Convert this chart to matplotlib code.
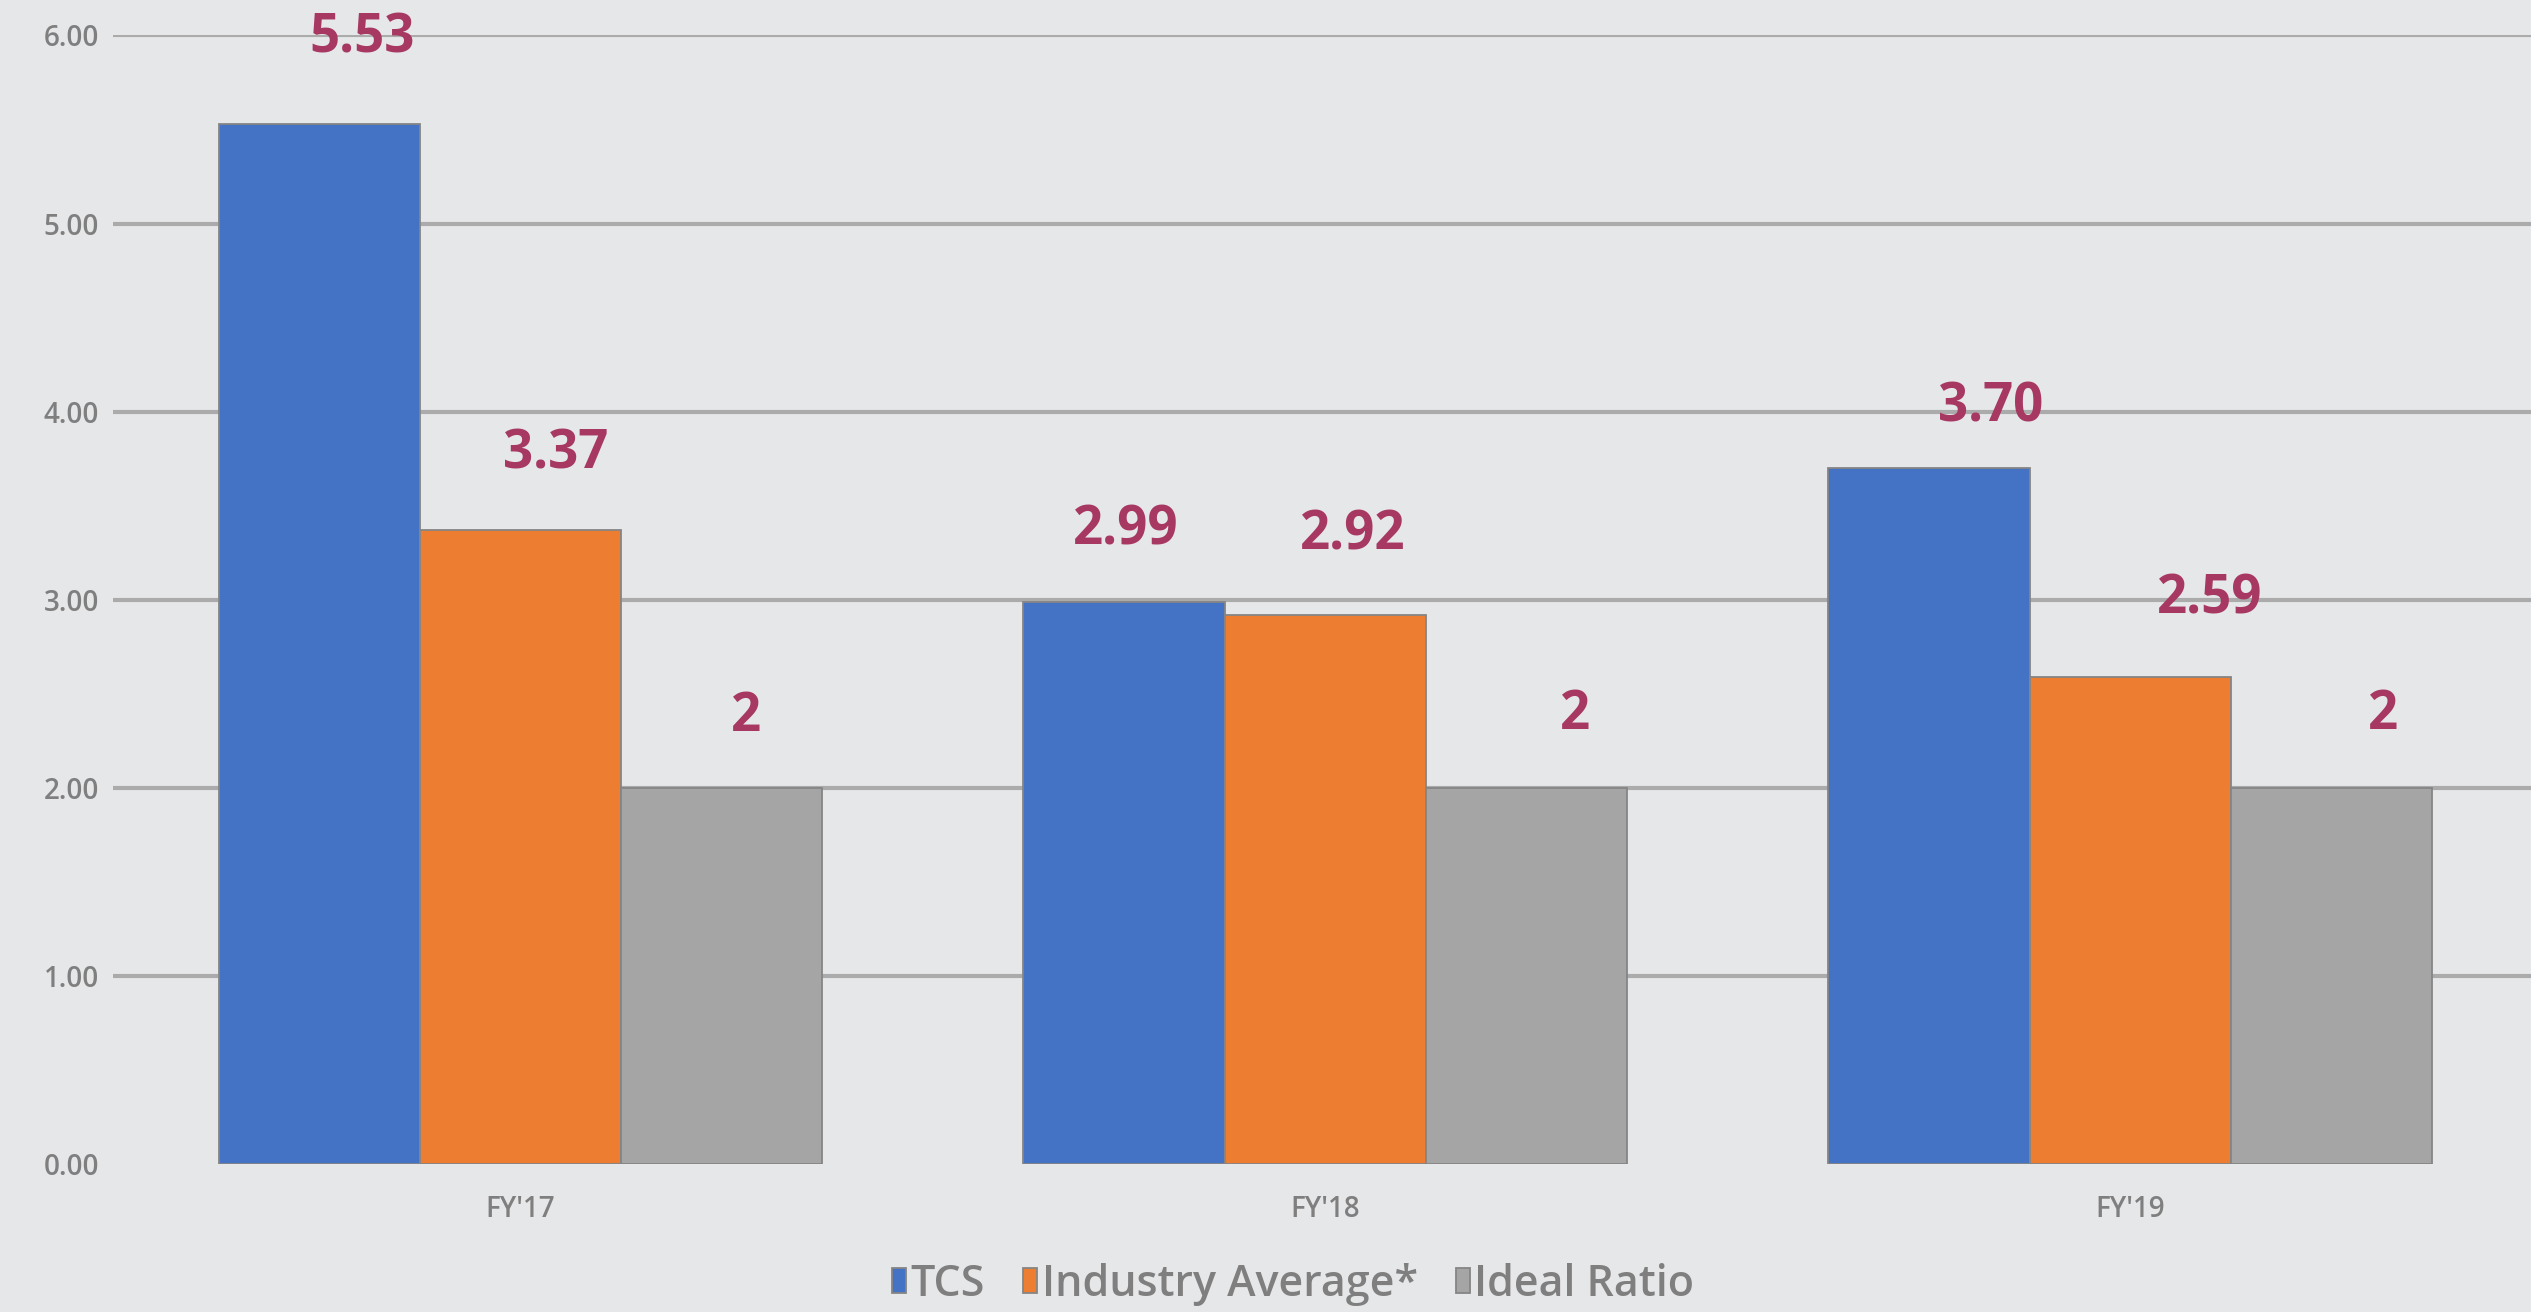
import matplotlib
matplotlib.use("Agg")
import matplotlib.pyplot as plt
import numpy as np

# Data
years = ["FY'17", "FY'18", "FY'19"]
series = ["TCS", "Industry Average*", "Ideal Ratio"]
tcs = [5.53, 2.99, 3.70]
industry = [3.37, 2.92, 2.59]
ideal = [2, 2, 2]
tcs_labels = ["5.53", "2.99", "3.70"]
industry_labels = ["3.37", "2.92", "2.59"]
ideal_labels = ["2", "2", "2"]
yticks = [0, 1, 2, 3, 4, 5, 6]

colors = ["#4472C4", "#ED7D31", "#A5A5A5"]
bg = "#E6E7E9"
label_color = "#A63862"
tick_color = "#7F7F7F"

# label nudges (pixels) relative to bar centre / bar top, per series
nudge_x = [[43, 2, 62], [35, 27, 80], [24, 49, 52]]
nudge_y = [[85, 71, 61], [76, 79, 77], [71, 73, 73]]

plt.rcParams["font.family"] = ["Open Sans", "DejaVu Sans"]

DPI = 100
fig = plt.figure(figsize=(25.31, 13.12), dpi=DPI, facecolor=bg)
ax = fig.add_axes([0.0447, 0.1128, 0.9553, 0.8602])
ax.set_facecolor(bg)

x = np.arange(len(years))
w = 0.25
values = [tcs, industry, ideal]
labels = [tcs_labels, industry_labels, ideal_labels]
px2pt = 72 / DPI

handles = []
for i, (vals, labs, c) in enumerate(zip(values, labels, colors)):
    xs = x + (i - 1) * w
    bars = ax.bar(xs, vals, width=w, color=c, edgecolor="#858585",
                  linewidth=1.3, zorder=3, label=series[i])
    handles.append(bars)
    for j, (xx, v, lab) in enumerate(zip(xs, vals, labs)):
        ax.annotate(lab, (xx, v),
                    xytext=(nudge_x[i][j] * px2pt, nudge_y[i][j] * px2pt),
                    textcoords="offset points", ha="center", va="center",
                    fontsize=38, fontweight="bold", color=label_color, zorder=5)

ax.set_xlim(-0.506, 2.498)
ax.set_ylim(0, 6)
ax.set_yticks(yticks)
ax.set_yticklabels([f"{t:.2f}" for t in yticks])
ax.set_xticks(x)
ax.set_xticklabels(years)
ax.tick_params(axis="both", length=0, colors=tick_color, labelsize=20)
ax.tick_params(axis="y", pad=10)
ax.tick_params(axis="x", pad=22)
for lab in ax.get_xticklabels() + ax.get_yticklabels():
    lab.set_fontweight("semibold")

# gridlines (no line at zero)
for t in yticks[1:]:
    ax.axhline(t, color="#ABABAB", lw=3, zorder=1)

for s in ax.spines.values():
    s.set_visible(False)

leg = fig.legend(handles=handles, labels=series, loc="center",
                 bbox_to_anchor=(0.511, 0.021), ncol=3, frameon=False,
                 fontsize=31, handlelength=0.32, handleheight=0.5,
                 handletextpad=0.1, columnspacing=0.9, labelcolor=tick_color,
                 prop={"size": 31, "weight": "semibold"})

fig.savefig("out.png", dpi=DPI, facecolor=bg)
plt.close(fig)
